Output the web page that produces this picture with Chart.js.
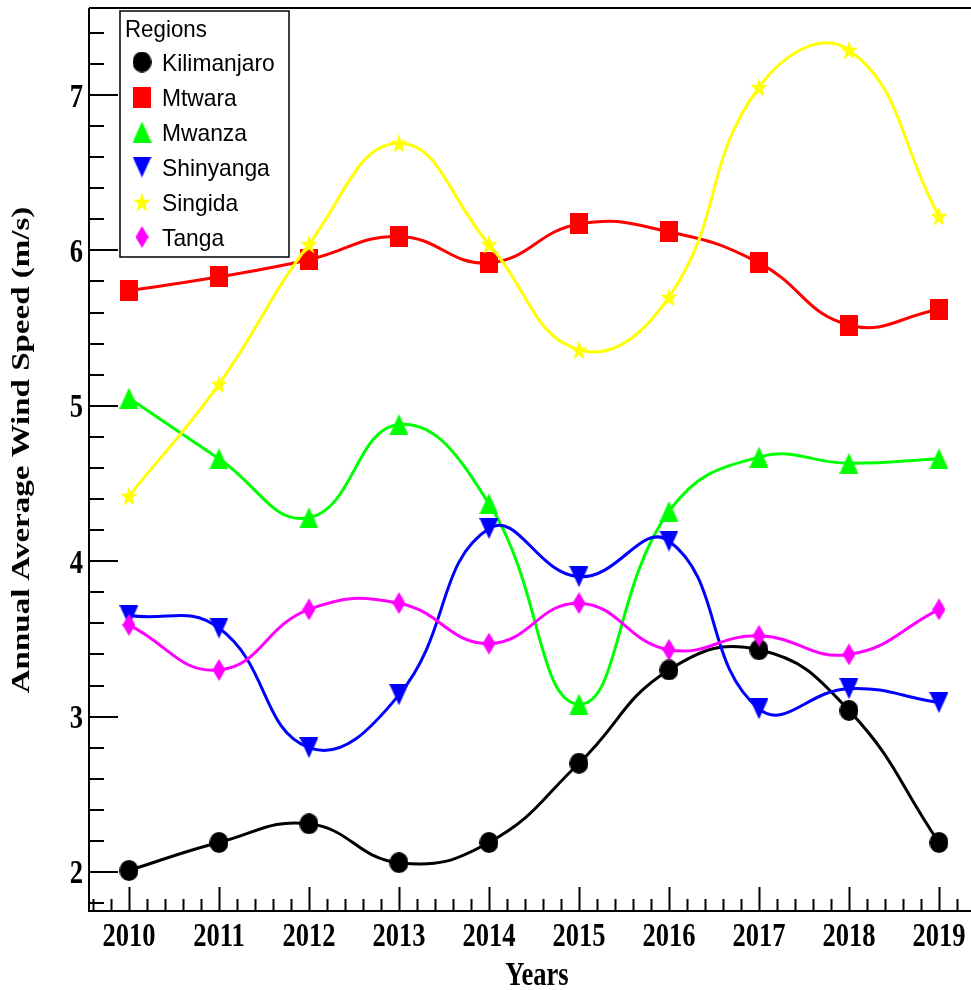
<!DOCTYPE html>
<html>
<head>
<meta charset="utf-8">
<script src="https://cdn.jsdelivr.net/npm/chart.js@4.4.1/dist/chart.umd.min.js"></script>
<style>
	html, body { margin: 0; padding: 0; background: #fff; }
	#windChart { display: block; }
</style>
</head>
<body>
<canvas id="windChart" width="971" height="990"></canvas>
<script>
const years = [2010, 2011, 2012, 2013, 2014, 2015, 2016, 2017, 2018, 2019];
const regionNames = ['Kilimanjaro', 'Mtwara', 'Mwanza', 'Shinyanga', 'Singida', 'Tanga'];
const kilimanjaro = [2.01, 2.19, 2.31, 2.06, 2.19, 2.70, 3.30, 3.43, 3.04, 2.19];
const mtwara = [5.74, 5.83, 5.94, 6.09, 5.92, 6.17, 6.12, 5.92, 5.52, 5.62];
const mwanza = [5.05, 4.66, 4.28, 4.88, 4.37, 3.08, 4.32, 4.67, 4.63, 4.66];
const shinyanga = [3.65, 3.57, 2.80, 3.14, 4.21, 3.90, 4.13, 3.05, 3.18, 3.09];
const singida = [4.42, 5.14, 6.04, 6.69, 6.04, 5.36, 5.70, 7.05, 7.29, 6.22];
const tanga = [3.59, 3.30, 3.69, 3.73, 3.47, 3.73, 3.43, 3.52, 3.40, 3.69];
const yTickValues = [2, 3, 4, 5, 6, 7];
const xTitle = 'Years';
const yTitle = 'Annual Average Wind Speed (m/s)';
const legendTitle = 'Regions';

// marker sprites, ROOT-like shapes (slightly taller than wide)
function makeMarker(shape, color, w, h) {
	const c = document.createElement('canvas');
	c.width = w;
	c.height = h;
	const g = c.getContext('2d');
	g.fillStyle = color;
	g.beginPath();
	if (shape === 'circle') {
		g.ellipse(w / 2, h / 2, w / 2, h / 2, 0, 0, Math.PI * 2);
	} else if (shape === 'square') {
		g.rect(0, 0, w, h);
	} else if (shape === 'up') {
		g.moveTo(w / 2, 0); g.lineTo(w, h); g.lineTo(0, h);
	} else if (shape === 'down') {
		g.moveTo(0, 0); g.lineTo(w, 0); g.lineTo(w / 2, h);
	} else if (shape === 'diamond') {
		g.moveTo(w / 2, 0); g.lineTo(w, h / 2); g.lineTo(w / 2, h); g.lineTo(0, h / 2);
	} else if (shape === 'star') {
		for (let i = 0; i < 10; i++) {
			const r = i % 2 === 0 ? 0.5 : 0.2;
			const a = -Math.PI / 2 + i * Math.PI / 5;
			const px = w / 2 + Math.cos(a) * r * w;
			const py = h * 0.55 + Math.sin(a) * r * h * 1.05;
			if (i === 0) g.moveTo(px, py); else g.lineTo(px, py);
		}
	}
	g.closePath();
	g.fill();
	return c;
}

const colors = ['#000000', '#ff0000', '#00ff00', '#0000ff', '#ffff00', '#ff00ff'];
const markers = [
	makeMarker('circle', colors[0], 19, 21),
	makeMarker('square', colors[1], 18, 21),
	makeMarker('up', colors[2], 19, 21),
	makeMarker('down', colors[3], 19, 21),
	makeMarker('star', colors[4], 18, 20),
	makeMarker('diamond', colors[5], 13, 22),
];
const series = [kilimanjaro, mtwara, mwanza, shinyanga, singida, tanga];

function squeezedText(ctx, text, x, y, sx, align) {
	ctx.save();
	ctx.translate(x, y);
	ctx.scale(sx, 1);
	ctx.textAlign = align;
	ctx.textBaseline = 'alphabetic';
	ctx.fillText(text, 0, 0);
	ctx.restore();
}

const rootFrame = {
	id: 'rootFrame',
	beforeDatasetsDraw(chart) {
		const ctx = chart.ctx;
		const area = chart.chartArea;
		const xs = chart.scales.x;
		const ys = chart.scales.y;
		ctx.save();
		ctx.strokeStyle = '#000';
		ctx.fillStyle = '#000';
		ctx.lineWidth = 2;

		// frame: left, bottom, top
		ctx.beginPath();
		ctx.moveTo(area.left, area.top);
		ctx.lineTo(area.right, area.top);
		ctx.moveTo(area.left, area.top);
		ctx.lineTo(area.left, area.bottom);
		ctx.lineTo(area.right, area.bottom);
		ctx.stroke();

		// x ticks, pointing inwards
		ctx.beginPath();
		for (let k = Math.ceil(xs.min * 5); k <= Math.floor(xs.max * 5); k++) {
			const px = Math.round(xs.getPixelForValue(k / 5)) + 0.5;
			const len = k % 5 === 0 ? 24 : 12;
			ctx.moveTo(px, area.bottom);
			ctx.lineTo(px, area.bottom - len);
		}
		// y ticks
		for (let k = Math.ceil(ys.min * 5); k <= Math.floor(ys.max * 5); k++) {
			const py = Math.round(ys.getPixelForValue(k / 5));
			const len = k % 5 === 0 ? 29 : 15;
			ctx.moveTo(area.left, py);
			ctx.lineTo(area.left + len, py);
		}
		ctx.stroke();

		ctx.font = 'bold 34px "Liberation Serif", "Times New Roman", serif';
		years.forEach(yr => {
			squeezedText(ctx, String(yr), xs.getPixelForValue(yr), area.bottom + 35, 0.78, 'center');
		});
		yTickValues.forEach(v => {
			squeezedText(ctx, String(v), area.left - 6, ys.getPixelForValue(v) + 11.5, 0.78, 'right');
		});
		squeezedText(ctx, xTitle, 537, 985, 0.78, 'center');

		ctx.font = 'bold 33px "Liberation Serif", "Times New Roman", serif';
		ctx.translate(29, 450);
		ctx.rotate(-Math.PI / 2);
		ctx.scale(1, 0.76);
		ctx.textAlign = 'center';
		ctx.fillText(yTitle, 0, 0);
		ctx.restore();
	},
	afterDatasetsDraw(chart) {
		const ctx = chart.ctx;
		const box = { left: 120, top: 11, width: 169, height: 246 };
		ctx.save();
		ctx.fillStyle = '#fff';
		ctx.fillRect(box.left, box.top, box.width, box.height);
		ctx.strokeStyle = '#000';
		ctx.lineWidth = 1.5;
		ctx.strokeRect(box.left, box.top, box.width, box.height);

		ctx.fillStyle = '#000';
		ctx.font = '24px "Liberation Sans", Arial, sans-serif';
		squeezedText(ctx, legendTitle, 125, 37, 0.93, 'left');
		const rows = [62, 97, 132, 167, 202, 237];
		regionNames.forEach((name, i) => {
			const m = markers[i];
			ctx.drawImage(m, 142 - m.width / 2, rows[i] - m.height / 2);
			ctx.fillStyle = '#000';
			squeezedText(ctx, name, 162, rows[i] + 9, 0.95, 'left');
		});
		ctx.restore();
	}
};

const datasets = regionNames.map((name, i) => ({
	label: name,
	data: years.map((yr, j) => ({ x: yr, y: series[i][j] })),
	borderColor: colors[i],
	backgroundColor: colors[i],
	borderWidth: 3,
	tension: 0.45,
	pointStyle: markers[i],
	pointRadius: 10,
	order: regionNames.length - i,
}));

new Chart(document.getElementById('windChart'), {
	type: 'line',
	data: { datasets: datasets },
	options: {
		responsive: false,
		animation: false,
		events: [],
		layout: { autoPadding: false, padding: { top: 8, right: 0, left: 0, bottom: 0 } },
		plugins: {
			legend: { display: false },
			tooltip: { enabled: false },
		},
		scales: {
			x: {
				type: 'linear',
				min: 2009.556,
				max: 2019.356,
				grid: { display: false },
				border: { display: false },
				ticks: { display: false },
				afterFit: s => { s.height = 79; },
			},
			y: {
				min: 1.749,
				max: 7.56,
				grid: { display: false },
				border: { display: false },
				ticks: { display: false },
				afterFit: s => { s.width = 89; },
			}
		}
	},
	plugins: [rootFrame]
});
</script>
</body>
</html>
